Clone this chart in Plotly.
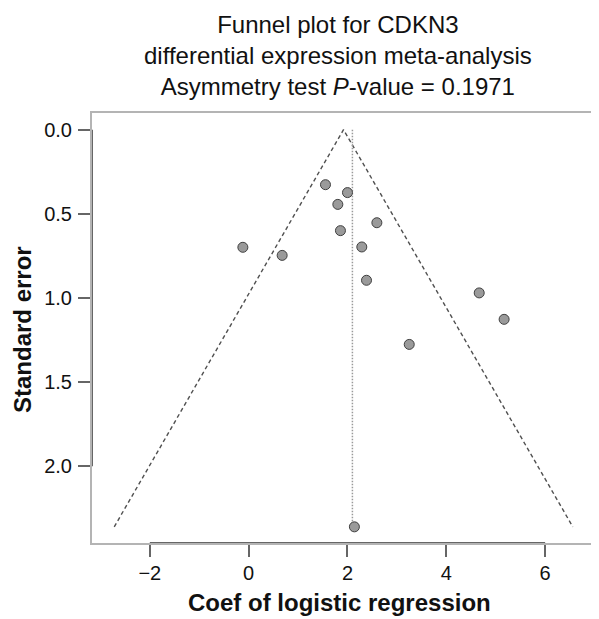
import plotly.graph_objects as go

# Study estimates
coef = [1.555, 2.00, 1.805, 2.595, 1.858, 2.29, 2.385, 4.666, -0.117, 0.678, 5.17, 3.25, 2.14]
se = [0.327, 0.374, 0.444, 0.553, 0.600, 0.697, 0.895, 0.970, 0.699, 0.747, 1.127, 1.276, 2.36]

# Funnel (pseudo 95% CI) outline
funnel_x = [-2.72, 1.92, 6.56]
funnel_se = [2.36, 0.0, 2.36]

# Summary estimate line
summary_x = [2.10, 2.10]
summary_se = [0.0, 2.36]

x_ticks = [-2, 0, 2, 4, 6]
x_tick_labels = ["\u22122", "0", "2", "4", "6"]
y_ticks = [0.0, 0.5, 1.0, 1.5, 2.0]
y_tick_labels = ["0.0", "0.5", "1.0", "1.5", "2.0"]

x_range = [-3.17, 7.07]
y_range = [2.456, -0.099]

title_text = ("Funnel plot for CDKN3<br>differential expression meta-analysis"
              "<br>Asymmetry test <i>P</i>-value = 0.1971")
x_title = "<b>Coef of logistic regression</b>"
y_title = "<b>Standard error</b>"

FONT = "Liberation Sans, Arial, sans-serif"
# The page body has an 8px default margin; size and offsets compensate for it.
OFF = 8
W, H = 599 - OFF, 619 - OFF
ML, MT = 92 - OFF, 113 - OFF
MR = W - (598 - OFF)
MB = H - (543 - OFF)
PW, PH = W - ML - MR, H - MT - MB

def px_to_paper_x(px):
    return (px - OFF - ML) / PW

def px_to_paper_y(py):
    return (H - MB - (py - OFF)) / PH

fig = go.Figure()
fig.add_trace(go.Scatter(x=funnel_x, y=funnel_se, mode="lines",
                         line=dict(color="#505050", dash="4px,3px", width=1.4),
                         hoverinfo="skip", showlegend=False))
fig.add_trace(go.Scatter(x=summary_x, y=summary_se, mode="lines",
                         line=dict(color="#9a9a9a", dash="1.5px,1.5px", width=1.5),
                         hoverinfo="skip", showlegend=False))
fig.add_trace(go.Scatter(x=coef, y=se, mode="markers",
                         marker=dict(size=10, color="#9a9a9a",
                                     line=dict(color="#404040", width=1)),
                         showlegend=False))

# darker axis segments between first and last ticks (R style)
fig.add_shape(type="line", xref="x", yref="y", x0=x_ticks[0], x1=x_ticks[-1],
              y0=y_range[0], y1=y_range[0], line=dict(color="#666666", width=2))
fig.add_shape(type="line", xref="x", yref="y", x0=x_range[0], x1=x_range[0],
              y0=y_ticks[0], y1=y_ticks[-1], line=dict(color="#666666", width=2))

fig.add_annotation(text=title_text, xref="paper", yref="paper",
                   x=px_to_paper_x(338), y=px_to_paper_y(9),
                   xanchor="center", yanchor="top", showarrow=False,
                   font=dict(size=24, family=FONT, color="#111111"))
fig.add_annotation(text=x_title, xref="paper", yref="paper",
                   x=px_to_paper_x(339), y=px_to_paper_y(602),
                   xanchor="center", yanchor="middle", showarrow=False,
                   font=dict(size=24, family=FONT, color="#111111"))
fig.add_annotation(text=y_title, xref="paper", yref="paper",
                   x=px_to_paper_x(22), y=px_to_paper_y(330), textangle=-90,
                   xanchor="center", yanchor="middle", showarrow=False,
                   font=dict(size=24, family=FONT, color="#111111"))

axis_common = dict(showgrid=False, zeroline=False, showline=True, mirror=True,
                   linecolor="#b4b4b4", linewidth=2, automargin=False,
                   ticks="outside", ticklen=12, tickwidth=1.5, tickcolor="#666666",
                   tickfont=dict(size=20, family=FONT, color="#111111"))

fig.update_layout(
    width=W, height=H,
    margin=dict(l=ML, r=MR, t=MT, b=MB),
    paper_bgcolor="white", plot_bgcolor="white",
    font=dict(family=FONT, color="#111111"),
    xaxis=dict(range=x_range, tickvals=x_ticks, ticktext=x_tick_labels,
               ticklabelstandoff=-1, **axis_common),
    yaxis=dict(range=y_range, tickvals=y_ticks, ticktext=y_tick_labels,
               ticklabelstandoff=2, **axis_common),
)

fig.write_html("out.html")
